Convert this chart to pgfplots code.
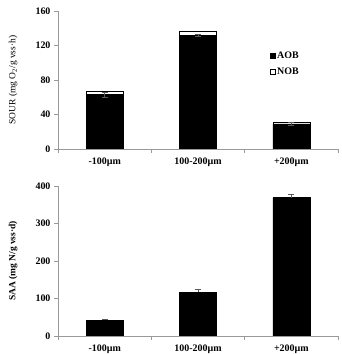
\documentclass[border=0pt]{standalone}
\usepackage{pgfplots}
\pgfplotsset{compat=1.18}
\usepackage{fontspec}
\setmainfont{Liberation Serif}

\pgfplotsset{
  panel/.style={
    scale only axis,
    width=280bp,
    axis lines*=left,
    axis line style={gray!80, line width=0.6pt},
    xmin=-0.5, xmax=2.5,
    ymin=0,
    xtick={0,1,2},
    xticklabels={-100µm,100-200µm,+200µm},
    major x tick style={draw=none},
    minor xtick={-0.5,0.5,1.5,2.5},
    minor x tick style={gray!80, line width=0.6pt},
    minor tick length=4bp,
    ytick style={gray!80, line width=0.6pt},
    major tick length=4bp,
    tick align=outside,
    /pgf/number format/assume math mode=true,
    tick label style={font=\bfseries\fontsize{10}{12}\selectfont},
    xticklabel style={yshift=-1bp},
    ylabel style={font=\fontsize{9.5}{11}\selectfont, at={(axis description cs:-0.16,0.5)}, anchor=center},
    ybar stacked,
    bar width=37bp,
  }
}

\begin{document}
\begin{tikzpicture}
\path[use as bounding box] (0,0) rectangle (342bp,354bp);

% Specific oxygen uptake rate, split into AOB and NOB parts
\begin{axis}[panel,
  at={(58bp,205bp)}, anchor=south west,
  height=138bp,
  ymax=160, ytick={0,40,80,120,160},
  ylabel={SOUR (mg O\textsubscript{2}/g vss·h)},
  legend style={at={(0.745,0.735)}, anchor=north west, draw=none, fill=none,
    font=\bfseries\fontsize{10}{12}\selectfont, row sep=4bp,
    legend cell align=left},
  legend image code/.code={\draw[#1, line width=0.4pt] (0bp,-2.5bp) rectangle (5bp,2.5bp);},
]
\addplot+[fill=black, draw=black, error bars/.cd, y dir=both, y explicit,
  error bar style={gray!70!black, line width=0.5pt}, error mark options={rotate=90, mark size=3bp}]
  coordinates {(0,63) +- (0,2.5) (1,132) +- (0,1) (2,29) +- (0,1.5)};
\addplot+[fill=white, draw=black, line width=0.5pt]
  coordinates {(0,3.5) (1,5) (2,2.5)};
\legend{AOB,NOB}
\end{axis}

% Specific ammonium activity
\begin{axis}[panel,
  at={(58bp,18bp)}, anchor=south west,
  height=150bp,
  ymax=400, ytick={0,100,200,300,400},
  ylabel={\bfseries SAA (mg N/g vss·d)},
]
\addplot+[fill=black, draw=black, error bars/.cd, y dir=plus, y explicit,
  error bar style={gray!70!black, line width=0.5pt}, error mark options={rotate=90, mark size=3bp}]
  coordinates {(0,42) +- (0,3) (1,116) +- (0,8) (2,369) +- (0,10)};
\end{axis}
\end{tikzpicture}
\end{document}
